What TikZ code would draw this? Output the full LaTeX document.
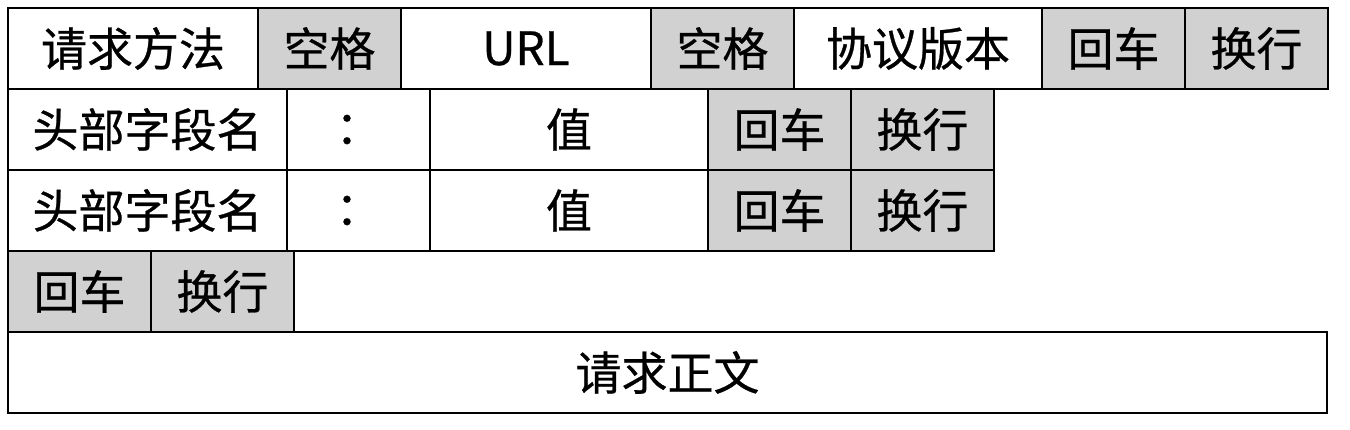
\documentclass[tikz,border=0pt]{standalone}
\usepackage{fontspec}
\usepackage{tikz}
\usetikzlibrary{positioning}
\newfontfamily\cjk[FakeBold=0.6]{Noto Sans CJK SC}
\definecolor{keygray}{gray}{0.82}

\begin{document}
\begin{tikzpicture}[x=1pt,y=-1pt,
    cell/.style={draw, line width=2.5pt, fill=white, inner sep=0pt, outer sep=0pt,
        minimum height=81pt, font=\cjk\fontsize{46}{50}\selectfont},
    ctrl/.style={cell, fill=keygray, minimum width=143pt}]
                \useasboundingbox (0,0) rectangle (1350,430);
                % Request line
                \node[cell, minimum width=250pt, anchor=north west] (method) at (8,8) {请求方法};
                \node[ctrl, right=0pt of method] (sp1) {空格};
                \node[cell, minimum width=250pt, right=0pt of sp1] (url) {URL};
                \node[ctrl, right=0pt of url] (sp2) {空格};
                \node[cell, minimum width=248pt, right=0pt of sp2] (version) {协议版本};
                \node[ctrl, right=0pt of version] (cr1) {回车};
                \node[ctrl, right=0pt of cr1] (lf1) {换行};
                % Header lines
                \node[cell, minimum width=279pt, anchor=north west] (hname1) at (method.south west) {头部字段名};
                \node[cell, minimum width=143pt, right=0pt of hname1] (colon1) {：};
                \node[cell, minimum width=278pt, right=0pt of colon1] (value1) {值};
                \node[ctrl, right=0pt of value1] (cr2) {回车};
                \node[ctrl, right=0pt of cr2] (lf2) {换行};
                \node[cell, minimum width=279pt, anchor=north west] (hname2) at (hname1.south west) {头部字段名};
                \node[cell, minimum width=143pt, right=0pt of hname2] (colon2) {：};
                \node[cell, minimum width=278pt, right=0pt of colon2] (value2) {值};
                \node[ctrl, right=0pt of value2] (cr3) {回车};
                \node[ctrl, right=0pt of cr3] (lf3) {换行};
                % Empty line
                \node[ctrl, anchor=north west] (cr4) at (hname2.south west) {回车};
                \node[ctrl, right=0pt of cr4] (lf4) {换行};
                % Body
                \node[cell, minimum width=1319pt, anchor=north west] (body) at (cr4.south west) {请求正文};
            \end{tikzpicture}
\end{document}
